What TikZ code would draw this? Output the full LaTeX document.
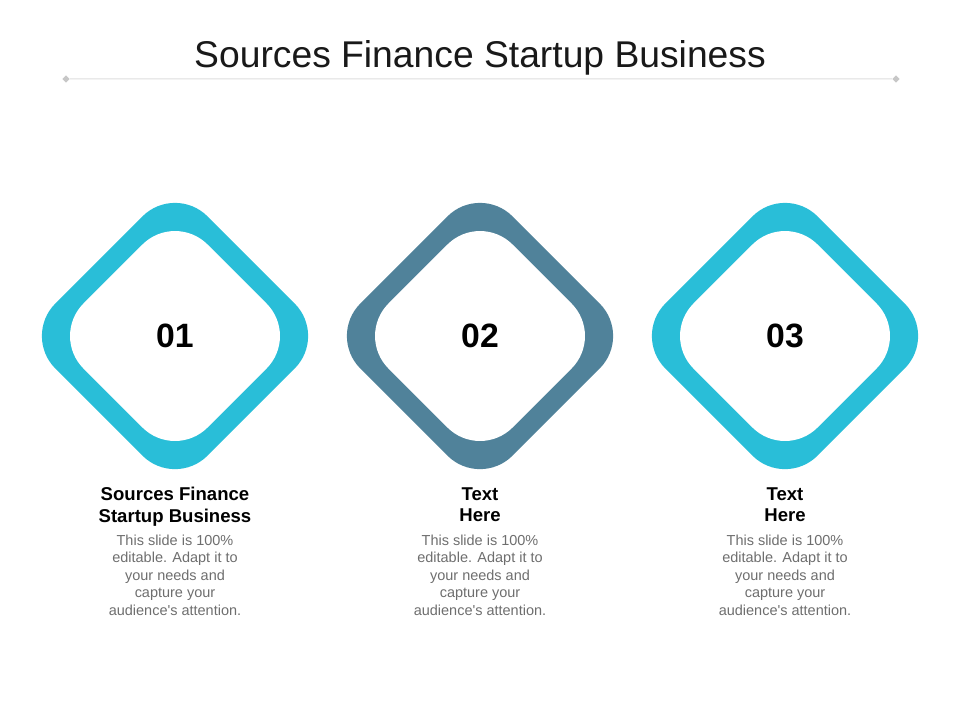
\documentclass[tikz,border=0pt]{standalone}
\usepackage{fontspec}
\setmainfont{Liberation Sans}
\usepackage{tikz}
\definecolor{cyanring}{HTML}{29BED8}
\definecolor{slatering}{HTML}{50829A}
\definecolor{bodygray}{HTML}{6E6E6E}
\definecolor{rulegray}{HTML}{DDDDDD}

\begin{document}
\begin{tikzpicture}[x=0.25mm, y=-0.25mm,
ring/.style={rectangle, rotate=45, inner sep=0, minimum size=53.8mm, rounded corners=11.5mm, fill=#1},
hole/.style={rectangle, rotate=45, inner sep=0, minimum size=43.85mm, rounded corners=11.5mm, fill=white},
tip/.style={rectangle, rotate=45, inner sep=0, minimum size=1.3mm, fill=rulegray!90!black},
title/.style={font=\fontsize{26.5}{30}\selectfont, text=black!90, anchor=base},
num/.style={font=\bfseries\fontsize{24}{28}\selectfont, text=black},
head/.style={align=center, inner sep=0, anchor=north, font=\bfseries\fontsize{13.2}{15.6}\selectfont, text=black},
body/.style={align=center, inner sep=0, anchor=north, font=\fontsize{10.3}{12.45}\selectfont, text=bodygray}]

\useasboundingbox (0,0) rectangle (960,720);

\node[title] (title) at (480,67) {Sources Finance Startup Business};
\node[tip] (tipL) at (66,79) {};
\node[tip] (tipR) at (896,79) {};
\draw[rulegray, line width=0.25mm] (tipL) -- (tipR);

\foreach \n/\x/\c/\t in {1/175/cyanring/{Sources Finance\\Startup Business}, 2/480/slatering/{Text\\Here}, 3/785/cyanring/{Text\\Here}} {
    \node[ring=\c] (ring\n) at (\x,336) {};
    \node[hole] (hole\n) at (ring\n) {};
    \node[num] (num\n) at (ring\n) {0\n};
    \node[head] (head\n) at (\x,487) {\t};
    \node[body] (body\n) at (\x,534.5) {This slide is 100\%\\editable. Adapt it to\\your needs and\\capture your\\audience\textquotesingle s attention.};
}

\end{tikzpicture}
\end{document}
